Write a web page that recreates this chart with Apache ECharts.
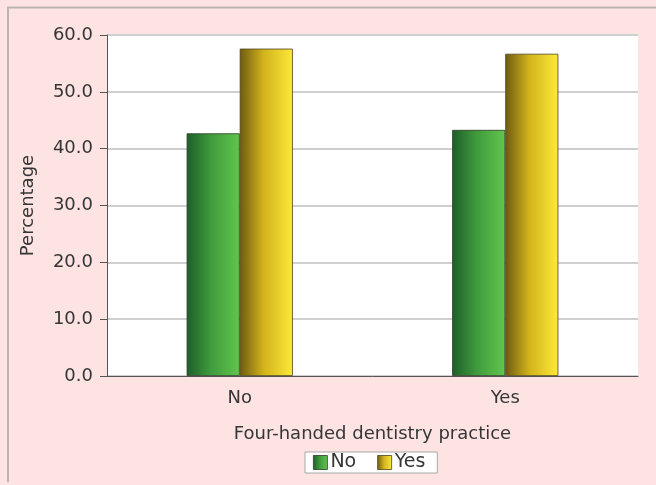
<!DOCTYPE html>
<html>
<head>
<meta charset="utf-8">
<script src="https://cdn.jsdelivr.net/npm/echarts@6/dist/echarts.min.js"></script>
<style>
  html, body { margin: 0; padding: 0; background: #ffffff; }
  #chart { width: 656px; height: 485px; }
</style>
</head>
<body>
<div id="chart"></div>
<script>
// Practice categories along the x axis
var categories = ['No', 'Yes'];
// Percentage answering "No" / "Yes" within each category
var noValues = [42.7, 43.3];
var yesValues = [57.6, 56.7];
// Y axis range
var yMin = 0, yMax = 60, yStep = 10;

function barGradient(dark, mid, light) {
  return new echarts.graphic.LinearGradient(0, 0, 1, 0, [
    { offset: 0, color: dark },
    { offset: 0.45, color: mid },
    { offset: 1, color: light }
  ]);
}

var greenFill = barGradient('#1d5e2a', '#3f9a3c', '#62c64e');
var yellowFill = barGradient('#6e5a12', '#d2b31c', '#fde93a');
var textColor = '#353535';
var font = 'DejaVu Sans, Verdana, sans-serif';

var chart = echarts.init(document.getElementById('chart'), null, { renderer: 'canvas' });
chart.setOption({
  backgroundColor: '#fde4e2',
  animation: false,
  textStyle: { fontFamily: font },
  graphic: [
    { type: 'line', shape: { x1: 7, y1: 7.5, x2: 656, y2: 7.5 }, style: { stroke: '#bdb5ad', lineWidth: 2 }, silent: true },
    { type: 'line', shape: { x1: 8, y1: 7, x2: 8, y2: 482 }, style: { stroke: '#bdb5ad', lineWidth: 2 }, silent: true }
  ],
  grid: { left: 107, right: 18, top: 35, bottom: 109, backgroundColor: '#ffffff', show: true, borderWidth: 0 },
  legend: {
    top: 452,
    left: 305,
    itemGap: 21,
    itemWidth: 14,
    itemHeight: 14,
    backgroundColor: '#ffffff',
    borderColor: '#a8a8a8',
    borderWidth: 1,
    borderRadius: 0,
    padding: [1, 12, 1, 8],
    textStyle: { fontSize: 19, color: textColor, fontFamily: font, padding: [0, 0, 0, -2] },
    data: [
      { name: 'No', icon: 'rect', itemStyle: { color: greenFill, borderColor: '#2e3b22', borderWidth: 0.8 } },
      { name: 'Yes', icon: 'rect', itemStyle: { color: yellowFill, borderColor: '#4e4418', borderWidth: 0.8 } }
    ]
  },
  xAxis: {
    type: 'category',
    data: categories,
    name: 'Four-handed dentistry practice',
    nameLocation: 'middle',
    nameGap: 49,
    nameTextStyle: { fontSize: 18, color: textColor, fontFamily: font },
    axisLine: { lineStyle: { color: '#555', width: 1 } },
    axisTick: { show: false },
    axisLabel: { fontSize: 18, color: textColor, fontFamily: font, margin: 13 },
    splitLine: { show: false }
  },
  yAxis: {
    type: 'value',
    min: yMin,
    max: yMax,
    interval: yStep,
    name: 'Percentage',
    nameLocation: 'middle',
    nameGap: 70,
    nameTextStyle: { fontSize: 18, color: textColor, fontFamily: font },
    axisLine: { show: true, lineStyle: { color: '#555', width: 1 } },
    axisTick: { show: true, length: 7, lineStyle: { color: '#555' } },
    axisLabel: { fontSize: 18, color: textColor, fontFamily: font, margin: 14, formatter: function (v) { return v.toFixed(1); } },
    splitLine: { lineStyle: { color: '#cfcfcf', width: 2 } }
  },
  series: [
    {
      name: 'No',
      type: 'bar',
      data: noValues,
      barGap: '0%',
      barCategoryGap: '60%',
      itemStyle: { color: greenFill, borderColor: '#2e3b22', borderWidth: 0.8 }
    },
    {
      name: 'Yes',
      type: 'bar',
      data: yesValues,
      itemStyle: { color: yellowFill, borderColor: '#4e4418', borderWidth: 0.8 }
    }
  ]
});
</script>
</body>
</html>
